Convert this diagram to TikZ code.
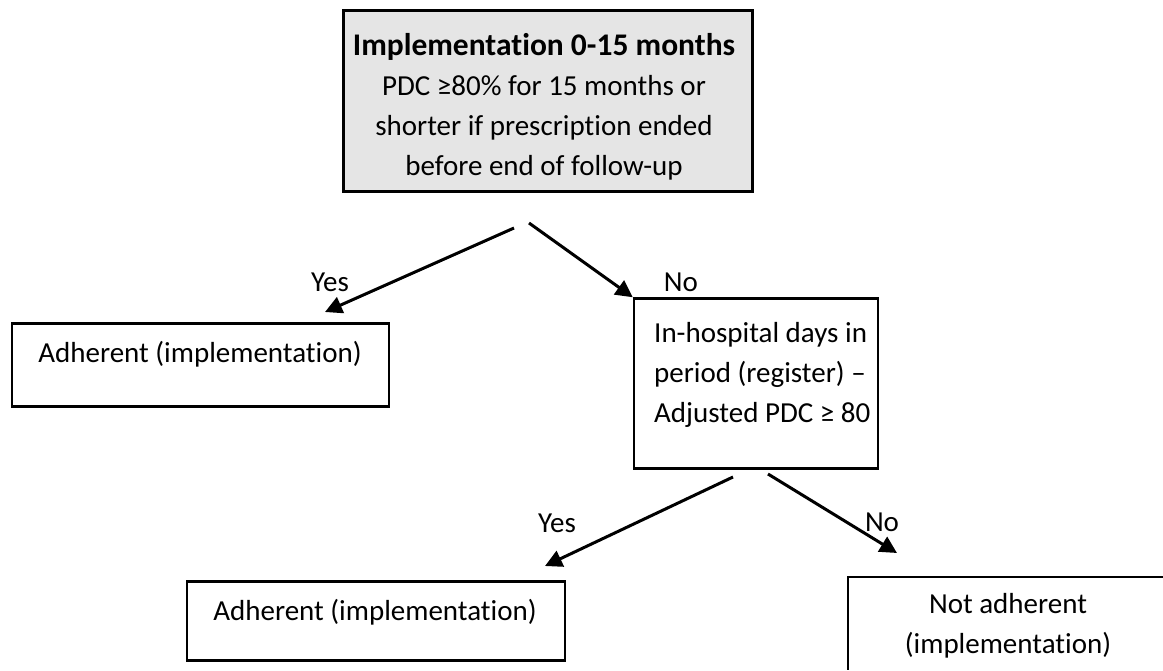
\documentclass[tikz,border=0pt]{standalone}
\usepackage{fontspec}
\setmainfont{Carlito}[Ligatures={NoCommon}]
\usetikzlibrary{arrows.meta}
\begin{document}
\begin{tikzpicture}[x=1pt,y=-1pt,
  box/.style={draw=black,line width=2.5pt,inner sep=0pt},
  txt/.style={inner sep=0pt,font=\fontsize{29}{40}\selectfont,align=center},
  arr/.style={line width=3pt,-{Triangle[length=17pt,width=17pt]}},
  lbl/.style={inner sep=0pt,font=\fontsize{29}{32}\selectfont}]
\useasboundingbox (0,0) rectangle (1163,670);
% boxes
\node[box,fill=black!10,line width=3pt,minimum width=409pt,minimum height=181pt] (top) at (547.5,100.5) {};
\node[box,minimum width=377pt,minimum height=83pt] (left) at (200.5,365) {};
\node[box,minimum width=244pt,minimum height=170pt] (mid) at (756,383.5) {};
\node[box,minimum width=378pt,minimum height=79pt] (bl) at (376,621) {};
\coordinate (brtl) at (848,577);
\draw[line width=2.5pt] (1163,577) -- (brtl) -- (848,670);
% texts
\node[txt] (toptext) at (544,107) {{\fontsize{31.5}{40}\selectfont\bfseries Implementation 0-15 months}\\PDC ≥80\% for 15 months or\\shorter if prescription ended\\before end of follow-up};
\node[txt] (lefttext) at (200,354) {Adherent (implementation)};
\node[txt,align=left,anchor=west] (midtext) at (654,375) {In-hospital days in\\period (register) –\\Adjusted PDC ≥ 80};
\node[txt] (bltext) at (375,612) {Adherent (implementation)};
\node[txt] (brtext) at (1008,626) {Not adherent\\(implementation)};
% connectors
\coordinate (s1) at (514,228);
\coordinate (e1) at (325,312);
\coordinate (s2) at (529,223);
\coordinate (s3) at (733,477);
\coordinate (e3) at (545,566);
\coordinate (s4) at (768,474);
\coordinate (e4) at (897,553);
\draw[arr] (s1) -- (e1);
\draw[arr] (s2) -- (mid.north west);
\draw[arr] (s3) -- (e3);
\draw[arr] (s4) -- (e4);
\node[lbl] (y1) at (330,282) {Yes};
\node[lbl] (n1) at (681,282) {No};
\node[lbl] (y2) at (557,523) {Yes};
\node[lbl] (n2) at (882,522) {No};
\end{tikzpicture}
\end{document}
